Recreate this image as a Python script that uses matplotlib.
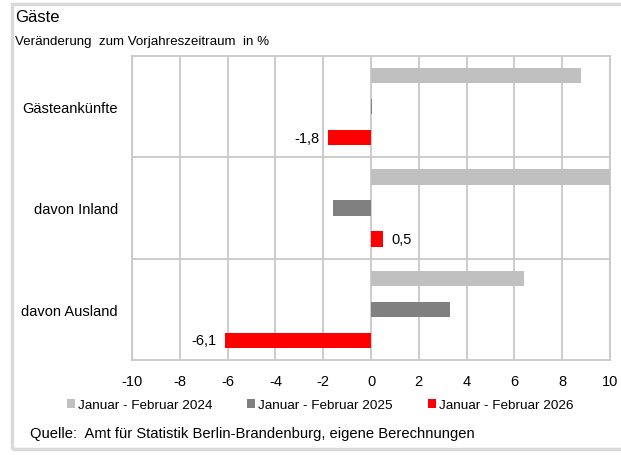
import numpy as np
import matplotlib.pyplot as plt
from matplotlib.patches import Rectangle, Patch

plt.rcParams['font.family'] = ['Liberation Sans', 'DejaVu Sans']

# data (Veränderung zum Vorjahreszeitraum in %)
categories = ['Gästeankünfte', 'davon Inland', 'davon Ausland']
series_names = ['Januar - Februar 2024', 'Januar - Februar 2025', 'Januar - Februar 2026']
vals_2024 = [8.8, 10.3, 6.4]
vals_2025 = [0.04, -1.6, 3.3]
vals_2026 = [-1.8, 0.5, -6.1]
colors = ['#c0c0c0', '#808080', '#ff0000']
x_ticks = [-10, -8, -6, -4, -2, 0, 2, 4, 6, 8, 10]

fig = plt.figure(figsize=(6.21, 4.56), dpi=100)
ax = fig.add_axes([132 / 621, 1 - 361 / 456, (610 - 132) / 621, (361 - 57) / 456])

# outer frame (right edge runs off the picture)
fig.patches.append(Rectangle((12 / 621, 1 - 450 / 456), 1.2, 445 / 456,
                             transform=fig.transFigure, fill=False,
                             edgecolor='#d9d9d9', linewidth=2.5))

y = np.arange(len(categories))[::-1].astype(float)
off = 0.305
h = 0.15
all_vals = [vals_2024, vals_2025, vals_2026]
bars = []
for k, (vals, col) in enumerate(zip(all_vals, colors)):
    b = ax.barh(y + off * (1 - k), vals, height=h, color=col, zorder=3)
    bars.append(b)

labels_2026 = [f'{v:.1f}'.replace('.', ',') for v in vals_2026]
ax.bar_label(bars[2], labels=labels_2026, padding=6, fontsize=10.5)

ax.set_xlim(-10, 10)
ax.set_ylim(-0.5, 2.5)
ax.set_xticks(x_ticks)
ax.set_xticklabels([str(t) for t in x_ticks], fontsize=10.5)
ax.set_yticks(y)
ax.set_yticklabels(categories, fontsize=10.5)
ax.set_yticks([0.5, 1.5], minor=True)
ax.tick_params(axis='both', which='both', length=0)
ax.tick_params(axis='x', pad=10)
ax.tick_params(axis='y', pad=10)
ax.grid(axis='x', color='#c8c8c8', linewidth=1.3, zorder=0)
ax.grid(axis='y', which='minor', color='#c8c8c8', linewidth=1.3, zorder=0)
ax.set_axisbelow(True)
for s in ax.spines.values():
    s.set_color('#c8c8c8')
    s.set_linewidth(1.3)

fig.text(15 / 621, 1 - 18 / 456, 'Gäste', fontsize=12, va='center', ha='left')
fig.text(15 / 621, 1 - 42 / 456, 'Veränderung  zum Vorjahreszeitraum  in %',
         fontsize=9.6, va='center', ha='left')

handles = [Patch(facecolor=c, edgecolor='none') for c in colors]
fig.legend(handles, series_names, loc='center', ncol=3,
           bbox_to_anchor=(320 / 621, 1 - 406 / 456), frameon=False,
           fontsize=9.7, handlelength=0.6, handleheight=0.6, handletextpad=0.2,
           columnspacing=2.6)

fig.text(30 / 621, 1 - 434 / 456,
         'Quelle:  Amt für Statistik Berlin-Brandenburg, eigene Berechnungen',
         fontsize=10.6, va='center', ha='left')

fig.savefig('out.png', dpi=100)
